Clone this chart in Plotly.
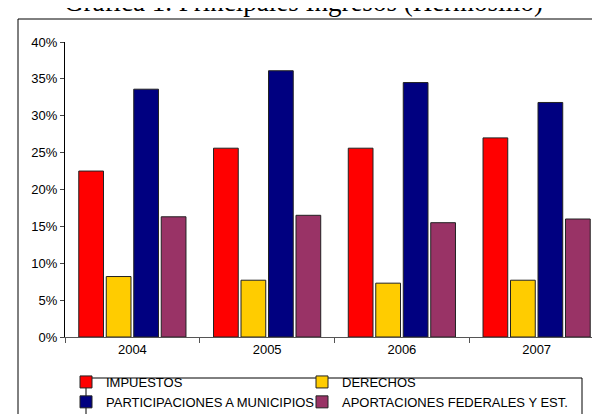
import plotly.graph_objects as go

# Datos (porcentajes)
years = ["2004", "2005", "2006", "2007"]
impuestos = [22.5, 25.6, 25.6, 27.0]
derechos = [8.2, 7.7, 7.3, 7.7]
participaciones = [33.6, 36.1, 34.5, 31.8]
aportaciones = [16.3, 16.5, 15.5, 16.0]

# nombre, valores, color, leyenda (columna)
series = [
    ("IMPUESTOS", impuestos, "#FF0000", "legend"),
    ("DERECHOS", derechos, "#FFCC00", "legend2"),
    ("PARTICIPACIONES A MUNICIPIOS", participaciones, "#000080", "legend"),
    ("APORTACIONES FEDERALES Y EST.", aportaciones, "#993366", "legend2"),
]

fig = go.Figure()
for name, vals, color, leg in series:
    fig.add_trace(go.Bar(
        x=years,
        y=[v / 100 for v in vals],
        name=name,
        legend=leg,
        marker=dict(color=color, line=dict(color="#222222", width=1)),
    ))

# Dimensiones del área de trazado (px)
W, H = 600, 414
L, R, T, B = 57, 4, 34, 85
pw, ph = W - L - R, H - T - B


def px_x(x):
    return (x - L) / pw


def px_y(y):
    return (H - B - y) / ph


leg_style = dict(
    orientation="v",
    xanchor="left", yanchor="top",
    y=px_y(359),
    bgcolor="rgba(0,0,0,0)",
    borderwidth=0,
    font=dict(size=13),
    traceorder="normal",
)

fig.update_layout(
    width=W,
    height=H,
    margin=dict(l=L, r=R, t=T, b=B, autoexpand=False),
    paper_bgcolor="white",
    plot_bgcolor="white",
    font=dict(family="Liberation Sans, Arial", size=13, color="black"),
    barmode="group",
    bargap=0.184,
    bargroupgap=0.1,
    showlegend=True,
    legend=dict(leg_style, x=px_x(58)),
    legend2=dict(leg_style, x=px_x(294)),
    xaxis=dict(
        type="category",
        showline=True, linecolor="#555555", linewidth=1,
        ticks="outside", tickson="boundaries", ticklen=5, tickcolor="#555555",
        showgrid=False,
        tickfont=dict(size=13),
    ),
    yaxis=dict(
        range=[0, 0.4],
        dtick=0.05,
        tickformat=".0%",
        showline=True, linecolor="black", linewidth=1,
        ticks="outside", ticklen=4,
        showgrid=False, zeroline=False,
        tickfont=dict(size=13),
    ),
    shapes=[
        # marco exterior del gráfico
        dict(
            type="rect", xref="paper", yref="paper",
            x0=px_x(10), x1=px_x(610), y0=px_y(430), y1=px_y(11),
            line=dict(color="black", width=1), fillcolor="rgba(0,0,0,0)",
            layer="below",
        ),
        # recuadro de la leyenda
        dict(
            type="rect", xref="paper", yref="paper",
            x0=px_x(78), x1=px_x(574), y0=px_y(413), y1=px_y(370),
            line=dict(color="black", width=1), fillcolor="rgba(0,0,0,0)",
        ),
    ],
    annotations=[dict(
        text="Gráfica 1. Principales Ingresos (Hermosillo)",
        xref="paper", yref="paper",
        x=px_x(295), y=px_y(11),
        xanchor="center", yanchor="bottom",
        showarrow=False,
        font=dict(family="Liberation Serif, Times New Roman", size=27, color="black"),
    )],
)

fig.write_html("out.html")
